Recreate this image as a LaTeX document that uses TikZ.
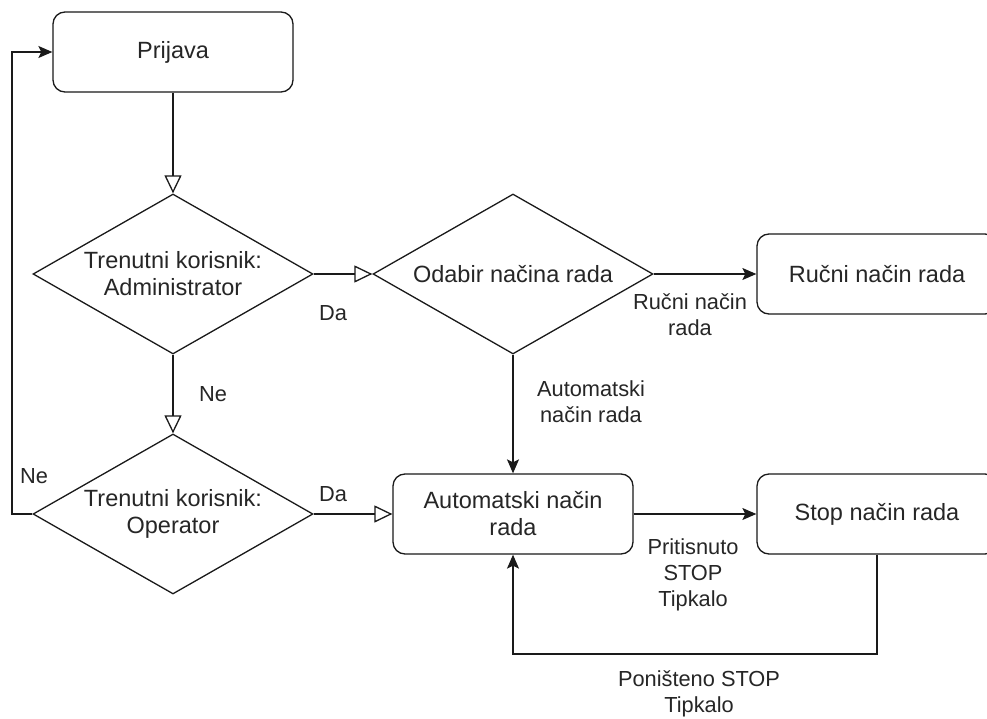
\documentclass[tikz,border=0pt]{standalone}
\usepackage{fontspec}
\setmainfont{Liberation Sans}
\usetikzlibrary{shapes.geometric,arrows.meta}
\newcommand{\mynodefont}{\fontsize{23.5}{27}\selectfont}
\newcommand{\mylblfont}{\fontsize{21.8}{26}\selectfont}
\definecolor{txt}{HTML}{262626}
\definecolor{ln}{HTML}{1A1A1A}
\begin{document}
\begin{tikzpicture}[x=1pt,y=-1pt,
  box/.style={draw=ln, line width=1.3pt, rounded corners=12pt, minimum width=240pt, minimum height=80pt, inner sep=0pt, align=center, font=\mynodefont, text=txt},
  dia/.style={draw=ln, line width=1.3pt, diamond, aspect=1.75, minimum width=280pt, minimum height=160pt, inner sep=0pt, align=center, font=\mynodefont, text=txt},
  lbl/.style={align=center, font=\mylblfont, inner sep=0pt, text=txt},
  conn/.style={draw=ln, line width=1.3pt},
  hollow/.style={conn, -{Triangle[open,length=18pt,width=17pt]}},
  farr/.style={conn, -{Stealth[length=14pt,width=12pt,inset=3pt]}}
]
\path[use as bounding box] (0,0) rectangle (987,719);
\fill[white] (0,0) rectangle (987,719);
\clip (0,0) rectangle (987,719);

\node[box] (prijava) at (173,52) {Prijava};
\node[dia] (d1) at (173,274) {Trenutni korisnik:\\Administrator};
\node[dia] (d2) at (513,274) {Odabir načina rada};
\node[box] (rucni) at (877,274) {Ručni način rada};
\node[dia] (d3) at (173,514) {Trenutni korisnik:\\Operator};
\node[box] (auto) at (513,514) {Automatski način\\rada};
\node[box] (stop) at (877,514) {Stop način rada};

\coordinate (lp) at (12,514);
\coordinate (sl) at (877,654);

\draw[hollow] (prijava.south) -- (d1.north);
\draw[hollow] (d1.east) -- (d2.west);
\draw[hollow] (d1.south) -- (d3.north);
\draw[hollow] (d3.east) -- (auto.west);
\draw[farr] (d2.east) -- (rucni.west);
\draw[farr] (d2.south) -- (auto.north);
\draw[farr] (auto.east) -- (stop.west);
\draw[farr] (d3.west) -- (lp) |- (prijava.west);
\draw[farr] (stop.south) -- (sl) -| (auto.south);

\node[lbl] (lda1) at (333,313) {Da};
\node[lbl] (lrucni) at (690,315) {Ručni način\\rada};
\node[lbl] (lne1) at (213,394) {Ne};
\node[lbl] (lauto) at (591,402) {Automatski\\način rada};
\node[lbl] (lne2) at (34,476) {Ne};
\node[lbl] (lda2) at (333,494) {Da};
\node[lbl] (lprit) at (693,575) {Pritisnuto\\STOP\\Tipkalo};
\node[lbl] (lponi) at (699,694) {Poništeno STOP\\Tipkalo};
\end{tikzpicture}
\end{document}
